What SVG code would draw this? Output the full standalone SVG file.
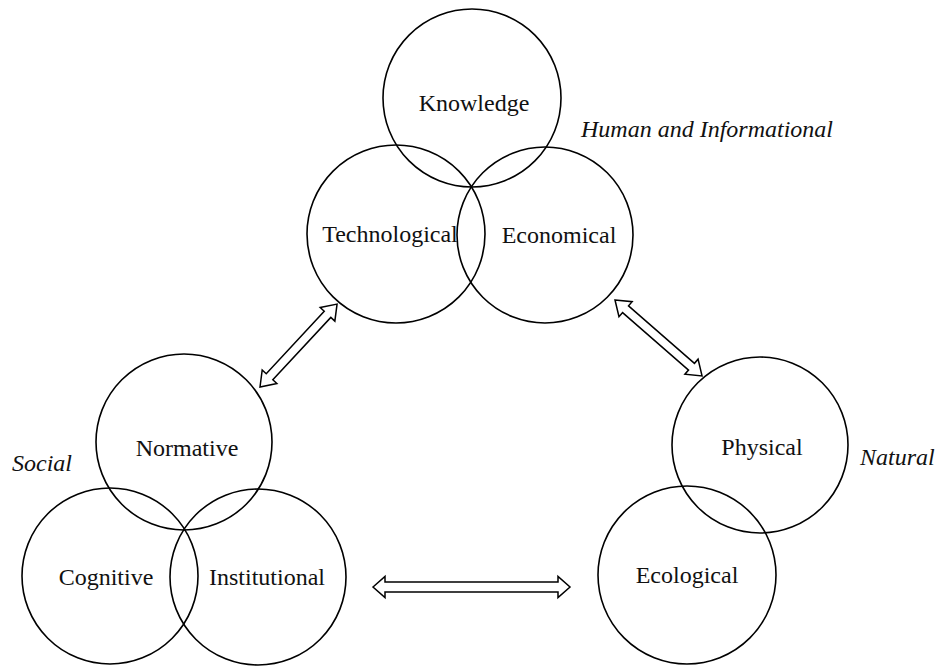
<svg xmlns="http://www.w3.org/2000/svg" width="939" height="668" viewBox="0 0 939 668">
<style>
.c{fill:none;stroke:#000;stroke-width:1.6}
.t{font-family:"Liberation Serif","Times New Roman",serif;font-size:24px;fill:#111;text-anchor:middle}
.i{font-family:"Liberation Serif","Times New Roman",serif;font-size:24px;font-style:italic;fill:#111}
.a{fill:#fff;stroke:#000;stroke-width:1.5;stroke-linejoin:miter}
</style>
<rect width="939" height="668" fill="#fff"/>
<g id="human">
<g id="knowledge"><circle class="c" cx="472" cy="98" r="89"/><text class="t" x="474" y="111">Knowledge</text></g>
<g id="technological"><circle class="c" cx="396" cy="234" r="89"/><text class="t" x="390" y="242">Technological</text></g>
<g id="economical"><circle class="c" cx="545" cy="235" r="88"/><text class="t" x="559" y="243">Economical</text></g>
<text class="i" x="581" y="137">Human and Informational</text>
</g>
<g id="social">
<g id="normative"><circle class="c" cx="184" cy="442" r="88"/><text class="t" x="187" y="456">Normative</text></g>
<g id="cognitive"><circle class="c" cx="110" cy="576" r="88"/><text class="t" x="106" y="585">Cognitive</text></g>
<g id="institutional"><circle class="c" cx="258" cy="577" r="88"/><text class="t" x="267" y="585">Institutional</text></g>
<text class="i" x="12" y="471">Social</text>
</g>
<g id="natural">
<g id="physical"><circle class="c" cx="760" cy="445" r="88"/><text class="t" x="762" y="455">Physical</text></g>
<g id="ecological"><circle class="c" cx="687" cy="575" r="89"/><text class="t" x="687" y="583">Ecological</text></g>
<text class="i" x="860" y="465">Natural</text>
</g>
<g id="connectors">
<path class="a" transform="translate(260,387) rotate(-47.1)" d="M0,0 L14,-10 L14,-4.5 L99.2,-4.5 L99.2,-10 L113.2,0 L99.2,10 L99.2,4.5 L14,4.5 L14,10 Z"/>
<path class="a" transform="translate(615,300) rotate(41.1)" d="M0,0 L14,-10 L14,-4.5 L101.5,-4.5 L101.5,-10 L115.5,0 L101.5,10 L101.5,4.5 L14,4.5 L14,10 Z"/>
<path class="a" transform="translate(373,587)" d="M0,0 L12,-10.5 L12,-5 L185,-5 L185,-10.5 L197,0 L185,10.5 L185,5 L12,5 L12,10.5 Z"/>
</g>
</svg>
